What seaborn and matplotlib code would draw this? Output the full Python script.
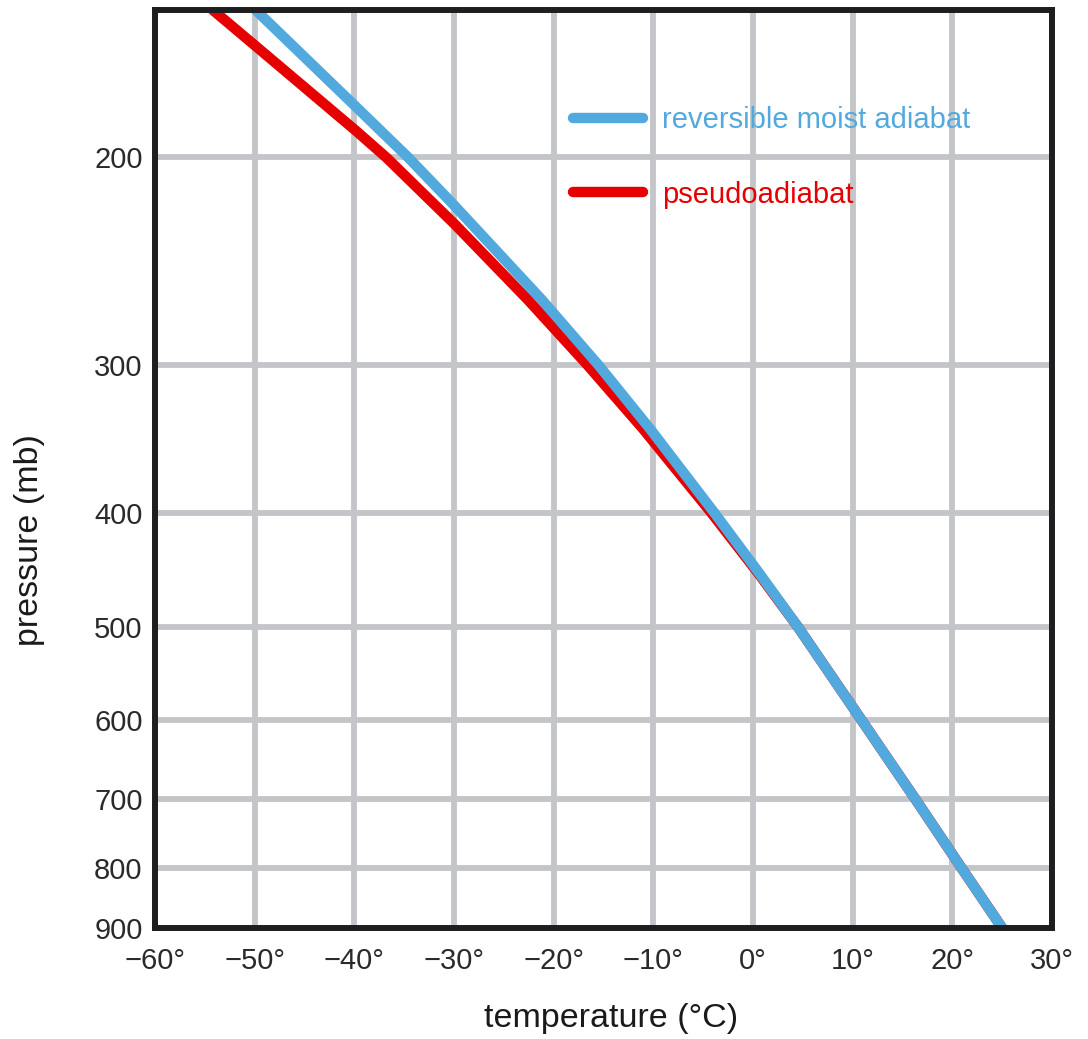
import pandas as pd
import seaborn as sns
import matplotlib.pyplot as plt
from matplotlib.ticker import FixedLocator, NullLocator, FixedFormatter

# values (pressure in mb, temperature in deg C)
p_reversible = [150, 182, 200, 220, 264, 300, 340, 400, 450, 500, 600, 700, 800, 900]
t_reversible = [-49.9, -39.6, -34.6, -29.9, -21.2, -15.5, -10.3, -3.9, 0.6, 4.5, 10.9, 16.3, 20.9, 25.0]

p_pseudo = [150, 162, 190, 200, 228, 264, 300, 340, 400, 450, 500, 600, 700, 800, 900]
t_pseudo = [-54.2, -49.5, -39.8, -36.8, -29.9, -22.6, -16.6, -11.0, -4.2, 0.5, 4.5, 10.9, 16.3, 20.9, 25.0]

x_ticks = [-60, -50, -40, -30, -20, -10, 0, 10, 20, 30]
y_ticks = [200, 300, 400, 500, 600, 700, 800, 900]

blue = '#52a9de'
red = '#e60000'

df = pd.concat([
    pd.DataFrame({'T': t_pseudo, 'p': p_pseudo, 'curve': 'pseudoadiabat'}),
    pd.DataFrame({'T': t_reversible, 'p': p_reversible, 'curve': 'reversible moist adiabat'}),
])

sns.set_style('white')
plt.rcParams['font.family'] = ['Liberation Sans', 'DejaVu Sans']

fig = plt.figure(figsize=(10.88, 10.39), dpi=100)
ax = fig.add_axes([155 / 1088, 111 / 1039, 897 / 1088, 918 / 1039])

sns.lineplot(data=df, x='T', y='p', hue='curve', sort=False, estimator=None,
             palette={'pseudoadiabat': red, 'reversible moist adiabat': blue},
             linewidth=7.5, ax=ax, legend=False)

ax.set_yscale('log')
ax.set_ylim(900, 150)
ax.set_xlim(-60, 30)

ax.yaxis.set_major_locator(FixedLocator(y_ticks))
ax.yaxis.set_major_formatter(FixedFormatter([str(v) for v in y_ticks]))
ax.yaxis.set_minor_locator(NullLocator())
ax.set_xticks(x_ticks)
ax.set_xticklabels([f'{v}°'.replace('-', '\u2212') for v in x_ticks])

ax.grid(True, color='#c4c5c9', linewidth=4.2)
ax.set_axisbelow(True)
for s in ax.spines.values():
    s.set_color('#1e1e21')
    s.set_linewidth(4.3)
    s.set_zorder(5)

ax.tick_params(axis='both', length=0, labelsize=21, colors='#2a2a2a')
ax.tick_params(axis='x', pad=14)
ax.tick_params(axis='y', pad=9)

ax.set_xlabel('temperature (°C)', fontsize=24.5, color='#1a1a1a')
ax.set_ylabel('pressure (mb)', fontsize=24.5, color='#1a1a1a')
ax.xaxis.set_label_coords(0.508, -0.082)
ax.yaxis.set_label_coords(-0.1226, 0.4227)

# legend: blue first, then red
h_blue, = ax.plot([], [], color=blue, linewidth=7.5, solid_capstyle='round')
h_red, = ax.plot([], [], color=red, linewidth=7.5, solid_capstyle='round')
ax.legend([h_blue, h_red], ['reversible moist adiabat', 'pseudoadiabat'],
          loc='upper left', bbox_to_anchor=(0.437, 0.924), frameon=False,
          fontsize=21, labelcolor=[blue, red], handlelength=2.4,
          handletextpad=0.65, labelspacing=1.6)

fig.savefig('out.png', dpi=100)
